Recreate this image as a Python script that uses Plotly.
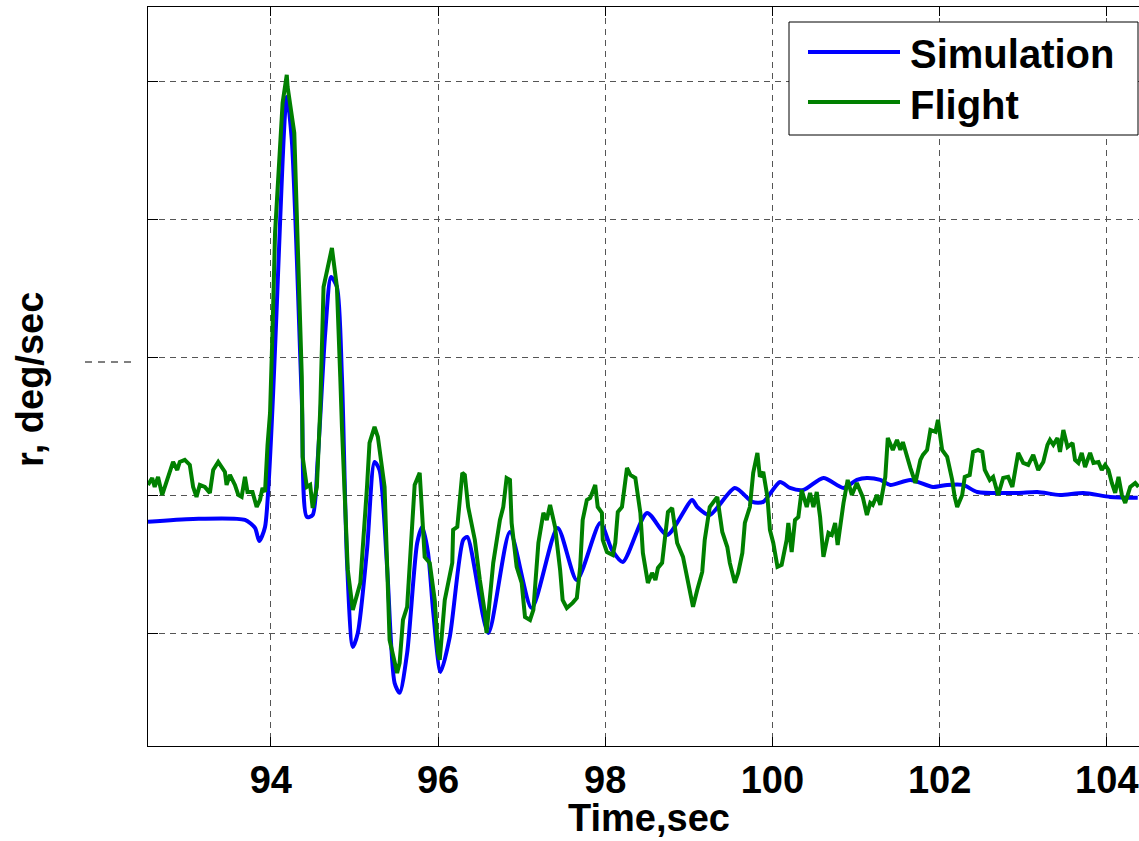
import plotly.graph_objects as go

# Simulation (blue) — time [s], yaw rate r [deg/s]
sim_t = [92.53, 93.07, 93.69, 93.81, 93.86, 93.93, 94.19, 94.25, 94.37, 94.43, 94.50, 94.56,
         94.65, 94.72, 94.79, 94.85, 94.91, 94.98, 95.04, 95.15, 95.24, 95.30, 95.39, 95.48,
         95.54, 95.63, 95.75, 95.81, 95.88, 95.94, 96.03, 96.14, 96.30, 96.35, 96.60, 96.86,
         97.12, 97.43, 97.66, 97.94, 98.08, 98.21, 98.50, 98.74, 99.04, 99.10, 99.25, 99.55,
         99.76, 99.89, 100.09, 100.21, 100.37, 100.61, 100.85, 101.01, 101.13, 101.29, 101.41,
         101.65, 101.92, 102.09, 102.28, 102.45, 102.93, 103.17, 103.44, 103.72, 104.04, 104.37]
sim_r = [-1.88, -1.67, -1.74, -2.32, -3.26, -2.25, 28.91, 25.80, 6.96, -1.52, -1.38, 2.61,
         11.81, 15.87, 15.14, 8.62, -4.64, -10.94, -9.93, -3.91, 2.46, 1.88, -5.14, -13.55,
         -14.27, -11.38, -3.41, -2.25, -4.13, -8.26, -12.75, -10.22, -3.19, -2.97, -9.93, -2.61,
         -8.12, -2.32, -6.09, -1.96, -3.91, -4.78, -1.23, -2.83, -0.29, -0.80, -1.38, 0.58,
         -0.43, -0.43, 1.01, 0.58, 0.43, 1.30, 0.58, 1.16, 1.30, 1.16, 0.80,
         1.16, 0.65, 0.80, 0.80, 0.29, 0.22, 0.29, 0.07, 0.22, -0.07, -0.14]

# Flight (green)
flt_t = [92.53, 92.58, 92.61, 92.65, 92.70, 92.83, 92.88, 92.91, 92.97, 93.03, 93.07, 93.11,
         93.15, 93.21, 93.27, 93.31, 93.37, 93.41, 93.45, 93.47, 93.51, 93.57, 93.61, 93.65,
         93.69, 93.72, 93.78, 93.83, 93.87, 93.90, 93.93, 93.96, 93.99, 94.02, 94.05, 94.14,
         94.19, 94.20, 94.28, 94.37, 94.38, 94.43, 94.47, 94.50, 94.55, 94.59, 94.63, 94.73,
         94.79, 94.83, 94.85, 94.92, 94.98, 95.07, 95.09, 95.15, 95.18, 95.24, 95.28, 95.36,
         95.42, 95.51, 95.54, 95.58, 95.63, 95.66, 95.72, 95.78, 95.84, 95.90, 95.96, 96.00,
         96.02, 96.08, 96.17, 96.18, 96.23, 96.29, 96.32, 96.36, 96.44, 96.50, 96.56, 96.58,
         96.62, 96.66, 96.74, 96.78, 96.82, 96.86, 96.88, 96.94, 97.00, 97.04, 97.10, 97.14,
         97.20, 97.26, 97.30, 97.34, 97.40, 97.46, 97.49, 97.54, 97.61, 97.66, 97.70, 97.73,
         97.78, 97.82, 97.88, 97.91, 97.96, 97.97, 98.02, 98.09, 98.12, 98.15, 98.20, 98.26,
         98.30, 98.36, 98.42, 98.45, 98.51, 98.56, 98.60, 98.63, 98.68, 98.71, 98.75, 98.80,
         98.86, 98.93, 98.99, 99.05, 99.10, 99.16, 99.19, 99.25, 99.34, 99.40, 99.46, 99.49,
         99.55, 99.59, 99.64, 99.67, 99.73, 99.77, 99.82, 99.85, 99.89, 99.94, 99.97, 100.01,
         100.06, 100.11, 100.17, 100.19, 100.23, 100.27, 100.31, 100.35, 100.41, 100.45, 100.49,
         100.53, 100.57, 100.61, 100.67, 100.71, 100.75, 100.78, 100.85, 100.90, 100.95, 101.01,
         101.08, 101.13, 101.17, 101.20, 101.25, 101.29, 101.35, 101.38, 101.44, 101.49, 101.53,
         101.56, 101.65, 101.71, 101.77, 101.80, 101.85, 101.89, 101.95, 101.98, 102.03, 102.09,
         102.15, 102.18, 102.21, 102.27, 102.30, 102.36, 102.40, 102.46, 102.51, 102.54, 102.60,
         102.64, 102.70, 102.76, 102.82, 102.87, 102.94, 103.00, 103.06, 103.12, 103.18, 103.24,
         103.29, 103.32, 103.36, 103.41, 103.44, 103.48, 103.53, 103.59, 103.62, 103.66, 103.70,
         103.74, 103.80, 103.84, 103.90, 103.94, 103.98, 104.02, 104.06, 104.10, 104.14, 104.18,
         104.22, 104.28, 104.34, 104.38]
flt_r = [0.80, 1.30, 0.65, 1.38, 0.07, 2.46, 1.88, 2.46, 2.61, 2.25, 0.65, -0.07,
         0.80, 0.65, 0.22, 1.88, 2.46, 2.03, 1.74, 0.80, 1.52, 0.80, 0.07, -0.07,
         1.38, 0.29, 0.29, -0.80, -0.29, 0.58, 0.29, 3.70, 6.01, 12.03, 19.06, 28.48,
         30.51, 29.64, 26.30, 8.62, 2.83, 0.65, 0.80, -0.87, 0.65, 6.23, 15.14, 17.97,
         15.14, 8.62, 5.00, -5.36, -8.26, -6.30, -4.64, 0.65, 3.84, 5.00, 4.28, 0.65,
         -10.43, -12.83, -12.10, -8.99, -8.04, -4.64, 0.80, 1.67, -4.42, -4.85, -7.54, -11.38,
         -11.88, -7.54, -4.85, -2.46, -2.25, 1.67, 1.52, -0.80, -3.19, -6.09, -8.48, -9.93,
         -7.32, -4.85, -1.74, -0.80, 1.30, 1.16, -1.96, -5.14, -6.30, -8.77, -8.99, -8.26,
         -3.41, -1.23, -1.74, -0.65, -2.25, -5.36, -7.54, -8.12, -7.75, -7.39, -5.14, -1.74,
         -0.29, -0.14, 0.80, -0.80, -1.23, -3.19, -4.06, -4.28, -3.41, -1.16, -0.80, 2.03,
         1.52, 1.30, -1.23, -4.13, -6.30, -5.58, -6.09, -5.22, -4.85, -2.97, -1.16, -0.87,
         -3.41, -4.42, -6.30, -8.04, -6.81, -5.51, -3.19, -0.80, -0.07, -2.61, -3.70, -4.85,
         -6.30, -5.58, -4.13, -1.96, -0.80, 1.67, 3.12, 1.38, 1.74, -0.07, -2.46, -3.41,
         -5.14, -5.00, -3.19, -1.96, -4.06, -1.74, -1.52, 0.43, -0.80, 0.22, -0.80,
         0.29, -1.52, -4.42, -2.68, -2.83, -1.96, -3.55, -0.51, 1.16, 0.07, 0.94,
         -0.07, -1.38, -0.51, -0.65, 0.07, -0.65, 1.38, 4.20, 3.33, 4.06, 3.33,
         3.91, 2.03, 0.94, 2.61, 2.97, 3.33, 4.78, 4.64, 5.51, 3.33, 2.83,
         1.16, -0.07, -0.80, 0.07, 1.38, 1.52, 3.19, 3.33, 3.19, 1.88, 1.16,
         1.38, 0.07, 1.30, 1.38, 0.65, 3.12, 2.39, 2.25, 2.97, 1.88, 2.46,
         3.70, 4.06, 3.70, 4.20, 3.19, 4.78, 3.55, 3.84, 2.61, 2.39, 3.12,
         2.10, 3.12, 2.39, 2.46, 1.88, 2.25, 1.88, 0.94, 0.22, 1.38, 0.07,
         -0.51, 0.65, 0.94, 0.65]

x_ticks = [94, 96, 98, 100, 102, 104]
x_tick_labels = ["94", "96", "98", "100", "102", "104"]
y_ticks = [-10, 0, 10, 20, 30]
series_names = ["Simulation", "Flight"]
series_colors = ["#0000FF", "#008000"]

FONT = "Liberation Sans, Arial, sans-serif"

fig = go.Figure()
fig.add_trace(go.Scatter(x=sim_t, y=sim_r, mode="lines", name=series_names[0],
                         line=dict(color=series_colors[0], width=4, shape="spline", smoothing=0.7),
                         showlegend=False))
fig.add_trace(go.Scatter(x=flt_t, y=flt_r, mode="lines", name=series_names[1],
                         line=dict(color=series_colors[1], width=4), showlegend=False))

W, H = 1139, 841
L, R, T, B = 148, 0, 7, 95
pw, ph = W - L - R, H - T - B


def px(xp):
    return (xp - L) / pw


def py(yp):
    return (H - B - yp) / ph


fig.update_layout(
    width=W, height=H,
    margin=dict(l=L, r=R, t=T, b=B, pad=0),
    plot_bgcolor="white", paper_bgcolor="white",
    font=dict(family=FONT, color="black"),
    showlegend=False,
)
fig.update_xaxes(
    range=[92.53, 104.385], tickvals=x_ticks, ticktext=[f"<b>{t}</b>" for t in x_tick_labels],
    tickfont=dict(size=38, family=FONT, color="black"), ticklabeloverflow="allow",
    ticks="inside", ticklen=9, tickcolor="black", tickwidth=1,
    showline=True, linecolor="black", linewidth=1, mirror="ticks",
    showgrid=True, gridcolor="#555555", gridwidth=1, griddash="6px,5px",
    zeroline=False,
)
fig.update_yaxes(
    range=[-18.12, 35.43], tickvals=y_ticks, showticklabels=False,
    ticks="inside", ticklen=10, tickcolor="black", tickwidth=1,
    showline=True, linecolor="black", linewidth=1, mirror=False,
    showgrid=True, gridcolor="#555555", gridwidth=1, griddash="6px,5px",
    zeroline=False,
)

# Manual legend (MATLAB style box)
shapes = [
    dict(type="rect", xref="paper", yref="paper", x0=px(789), x1=px(1138), y0=py(135), y1=py(22),
         line=dict(color="black", width=1), fillcolor="white", layer="above"),
    dict(type="line", xref="paper", yref="paper", x0=px(808), x1=px(900), y0=py(52), y1=py(52),
         line=dict(color=series_colors[0], width=4), layer="above"),
    dict(type="line", xref="paper", yref="paper", x0=px(808), x1=px(900), y0=py(102), y1=py(102),
         line=dict(color=series_colors[1], width=4), layer="above"),
    dict(type="line", xref="paper", yref="paper", x0=px(85), x1=px(131), y0=py(362), y1=py(362),
         line=dict(color="black", width=1, dash="7px,6px")),
]
fig.update_layout(shapes=shapes)

annotations = [
    dict(text="<b>Simulation</b>", xref="paper", yref="paper", x=px(908), y=py(54),
         xanchor="left", yanchor="middle", showarrow=False, font=dict(size=40, family=FONT)),
    dict(text="<b>Flight</b>", xref="paper", yref="paper", x=px(908), y=py(105),
         xanchor="left", yanchor="middle", showarrow=False, font=dict(size=40, family=FONT)),
    dict(text="<b>Time,sec</b>", xref="paper", yref="paper", x=px(649), y=py(841),
         xanchor="center", yanchor="bottom", showarrow=False, font=dict(size=38, family=FONT)),
    dict(text="<b>r, deg/sec</b>", xref="paper", yref="paper", x=px(30), y=py(380),
         xanchor="center", yanchor="middle", textangle=-90, showarrow=False,
         font=dict(size=38, family=FONT)),
]
fig.update_layout(annotations=annotations)

fig.write_html("out.html", config={"displayModeBar": False},
               post_script="document.body.style.margin='0';")
